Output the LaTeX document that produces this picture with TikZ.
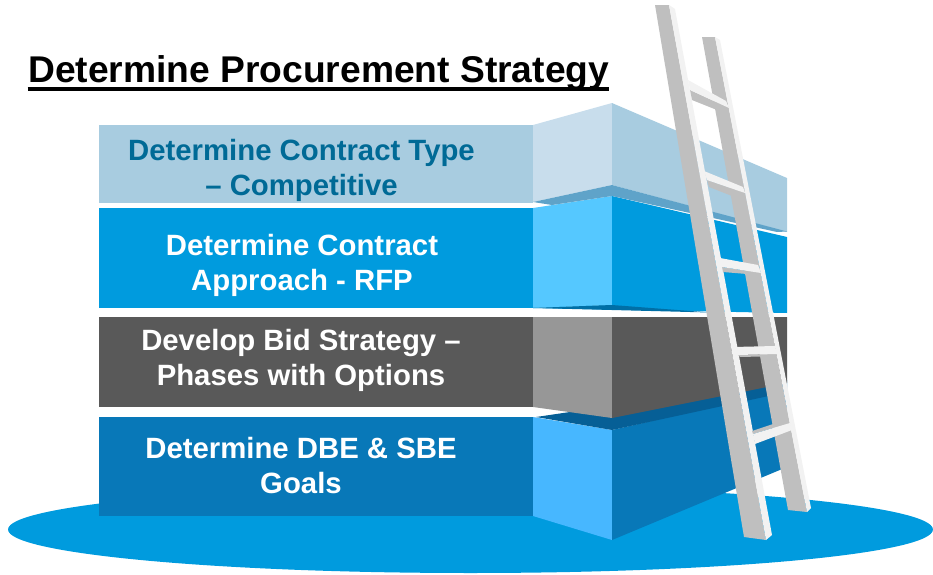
\documentclass[tikz,border=0pt]{standalone}
\usepackage{fontspec}
\setmainfont{Liberation Sans}
\definecolor{topfront}{HTML}{A8CCE0}
\definecolor{topside}{HTML}{C8DDEC}
\definecolor{topshade}{HTML}{5FA3C9}
\definecolor{toptext}{HTML}{006A96}
\definecolor{blufront}{HTML}{009BDE}
\definecolor{bluside}{HTML}{55C8FF}
\definecolor{blushade}{HTML}{006FA6}
\definecolor{grayfront}{HTML}{595959}
\definecolor{grayside}{HTML}{979797}
\definecolor{deepfront}{HTML}{0878B8}
\definecolor{deepside}{HTML}{47B7FF}
\definecolor{deepshade}{HTML}{065F96}
\definecolor{railgray}{HTML}{BFBFBF}
\definecolor{railwhite}{HTML}{F2F2F2}
\tikzset{
  blocktext/.style={font=\bfseries\fontsize{22}{26.2}\selectfont,align=center,text=white,inner sep=0pt},
}
\begin{document}
\begin{tikzpicture}[x=0.75pt,y=-0.75pt]
\useasboundingbox (0,0) rectangle (933,575);
\clip (0,0) rectangle (933,575);
\fill[blufront] (470.5,529.5) ellipse [x radius=462.5,y radius=43.5];
% block 4
\fill[deepfront] (99,417) rectangle (533,516);
\fill[deepside] (533,417) -- (612,430) -- (612,540) -- (533,516) -- cycle;
\fill[deepfront] (612,430) -- (787,390) -- (787,467) -- (612,540) -- cycle;
\fill[deepshade] (536,417) -- (787,380) -- (787,392) -- (612,430) -- cycle;
% block 3
\fill[grayfront] (99,317) rectangle (533,407);
\fill[grayside] (533,317) -- (612,317) -- (612,418) -- (533,407) -- cycle;
\fill[grayfront] (612,317) -- (787,317) -- (787,383) -- (612,418) -- cycle;
% block 2
\fill[blufront] (99,208) rectangle (533,308);
\fill[bluside] (533,208) -- (612,196) -- (612,305) -- (533,308) -- cycle;
\fill[blufront] (612,196) -- (787,237) -- (787,313) -- (533,308) -- (612,305) -- cycle;
\fill[blushade] (533,308) -- (612,305) -- (710,312.5) -- cycle;
% block 1
\fill[topfront] (99,125) rectangle (533,203);
\fill[topside] (533,125) -- (612,103) -- (612,185) -- (533,202) -- cycle;
\fill[topfront] (612,103) -- (787,178) -- (787,232) -- (612,185) -- cycle;
\fill[topshade] (533,202) -- (612,185) -- (787,231.5) -- (777,232) -- (612,196) -- (552,205) -- cycle;
% ladder rails
\fill[railgray] (702,37) -- (715,37) -- (807,512) -- (788,510) -- cycle;
\fill[railwhite] (715,37) -- (720,40) -- (811,508) -- (807,512) -- cycle;
\fill[railgray] (655,5) -- (669,5) -- (766,540) -- (744,537) -- cycle;
\fill[railwhite] (669,5) -- (675,9) -- (772,535) -- (766,540) -- cycle;
% rungs
\fill[railgray] (690,90) -- (729,108) -- (717,110) -- (692,100) -- cycle;
\fill[railwhite] (688,80) -- (726,101) -- (729,108) -- (690,90) -- cycle;
\fill[railgray] (707,180) -- (745,193) -- (732,196) -- (709,187) -- cycle;
\fill[railwhite] (704,171) -- (743,187) -- (745,193) -- (707,180) -- cycle;
\fill[railgray] (722,267) -- (761,273) -- (747,274) -- (723,272) -- cycle;
\fill[railwhite] (720,258) -- (758,265) -- (761,273) -- (722,267) -- cycle;
\fill[railgray] (738,355) -- (777,354) -- (761,356.5) -- (740,357) -- cycle;
\fill[railwhite] (733,347) -- (775,346) -- (777,354) -- (738,355) -- cycle;
\fill[railgray] (752,431) -- (773,424) -- (790,423) -- (753,434) -- cycle;
\fill[railwhite] (753,434) -- (790,423) -- (792,430) -- (755,444) -- cycle;
% text
\node[anchor=west,inner sep=0pt,font=\bfseries\fontsize{27.9}{30}\selectfont] (title) at (28,73) {Determine Procurement Strategy};
\coordinate (ulstart) at (27.5,88.7);
\coordinate (ulend) at (609,88.7);
\draw[line width=2.8pt] (ulstart) -- (ulend);
\node[blocktext,text=toptext] (t1) at (301.5,170) {Determine Contract Type\\– Competitive};
\node[blocktext] (t2) at (302,265) {Determine Contract\\Approach - RFP};
\node[blocktext] (t3) at (301,360) {Develop Bid Strategy –\\Phases with Options};
\node[blocktext] (t4) at (301,465.5) {Determine DBE \& SBE\\Goals};
\end{tikzpicture}
\end{document}
